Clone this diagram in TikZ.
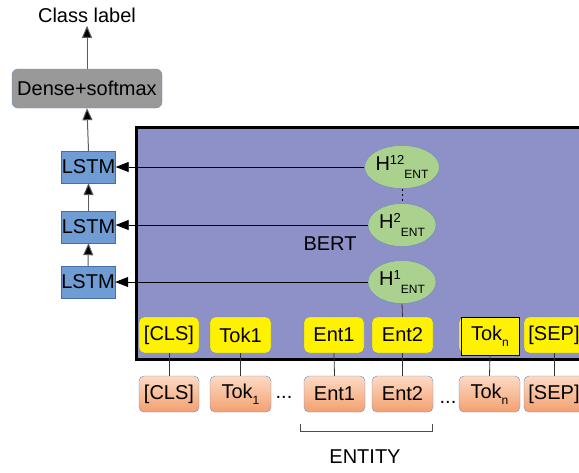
\documentclass[tikz,border=0pt]{standalone}
\usepackage{fontspec}
\setmainfont{Liberation Sans}
\usetikzlibrary{shapes.geometric,arrows.meta}

\definecolor{bertfill}{RGB}{142,144,200}
\definecolor{lstmfill}{RGB}{112,156,212}
\definecolor{lstmedge}{RGB}{70,110,170}
\definecolor{hfill}{RGB}{170,210,142}
\definecolor{boxedge}{RGB}{110,140,190}
\definecolor{densefill}{RGB}{153,153,153}
\definecolor{orangetop}{RGB}{252,218,196}
\definecolor{orangebot}{RGB}{244,160,112}
\definecolor{arrowgray}{RGB}{90,90,90}

\newcommand{\lbl}[1]{\fontsize{20}{22}\selectfont #1}
\newcommand{\hsym}[1]{H\raisebox{0.55ex}{\fontsize{13}{13}\selectfont #1}\raisebox{-0.75ex}{\fontsize{12}{12}\selectfont ENT}}
\newcommand{\tokidx}[1]{Tok\raisebox{-0.6ex}{\fontsize{12}{12}\selectfont #1}}

\begin{document}
\begin{tikzpicture}[x=1pt,y=-1pt,
  txt/.style={font=\lbl{}},
  lstmbox/.style={draw=lstmedge,fill=lstmfill,minimum width=54pt,minimum height=32pt,inner sep=0pt,font=\lbl{}},
  densebox/.style={draw=boxedge,fill=densefill,rounded corners=6pt,minimum width=150pt,minimum height=39pt,inner sep=0pt,font=\lbl{}},
  hnode/.style={ellipse,draw=boxedge,fill=hfill,minimum width=68pt,minimum height=43pt,inner sep=0pt,font=\lbl{}},
  ybox/.style={draw=boxedge,fill=yellow,rounded corners=5pt,minimum width=60pt,minimum height=36pt,inner sep=0pt,font=\lbl{}},
  obox/.style={draw=boxedge,top color=orangetop,bottom color=orangebot,rounded corners=5pt,minimum width=60pt,minimum height=36pt,inner sep=0pt,font=\lbl{}},
  uparrow/.style={draw=arrowgray,line width=1pt,-{Triangle[length=12pt,width=10pt,fill=black]}},
  feed/.style={draw=black,line width=0.8pt,-{Triangle[length=13pt,width=10pt,fill=black]}},
  link/.style={draw=black!80,line width=0.8pt}
]
\useasboundingbox (0,0) rectangle (579,472);
\clip (0,0) rectangle (579,472);

% BERT encoder block
\draw[line width=3pt,fill=bertfill] (136,127) rectangle (640,359);
\node[txt] (bert) at (330,244) {BERT};

% classifier head
\node[txt] (cls label) at (87,15) {Class label};
\node[densebox] (dense) at (87,88.5) {Dense+softmax};
\node[lstmbox] (lstm1) at (88.5,167) {LSTM};
\node[lstmbox] (lstm2) at (88.5,227) {LSTM};
\node[lstmbox] (lstm3) at (88,282) {LSTM};

\draw[uparrow] (dense.north) -- (cls label.south);
\draw[uparrow] (lstm1.north) -- (dense.south);
\draw[uparrow] (lstm2.north) -- (lstm1.south);
\draw[uparrow] (lstm3.north) -- (lstm2.south);

% entity hidden states
\node[hnode] (h12) at (402,167) {\hsym{12}};
\node[hnode] (h2) at (402,225) {\hsym{2}};
\node[hnode] (h1) at (402,282) {\hsym{1}};

\draw[feed] (h12.west) -- (lstm1.east);
\draw[feed] (h2.west) -- (h2.west -| lstm2.east);
\draw[feed] (h1.west) -- (lstm3.east);
\draw[black,dash pattern=on 2pt off 3pt] (h12.south) -- (h2.north);

% BERT token outputs
\node[ybox] (ycls) at (169,335) {[CLS]};
\node[ybox,minimum width=61pt] (ytok1) at (240.5,335) {Tok1};
\node[ybox] (yent1) at (334,335) {Ent1};
\node[ybox,minimum width=61pt] (yent2) at (402.5,335) {Ent2};
\node[ybox] at (489,335) {};
\node[draw=black,fill=yellow,minimum width=58pt,minimum height=38pt,inner sep=0pt,font=\lbl{}] (ytokn) at (490,336) {\tokidx{n}};
\node[ybox] (ysep) at (554,335) {[SEP]};

\draw[link] (h1.south) -- (yent2.north);

% input tokens
\node[obox] (ocls) at (169,394) {[CLS]};
\node[obox,minimum width=61pt] (otok1) at (240.5,394) {\tokidx{1}};
\node[obox,minimum width=61pt] (oent1) at (334.5,394) {Ent1};
\node[obox,minimum width=61pt] (oent2) at (402.5,394) {Ent2};
\node[obox,minimum width=61pt] (otokn) at (489.5,394) {\tokidx{n}};
\node[obox] (osep) at (554,394) {[SEP]};

\foreach \a/\b in {ycls/ocls,ytok1/otok1,yent1/oent1,yent2/oent2,ytokn/otokn,ysep/osep}
  \draw[link] (\a.south) -- (\b.north);

\node[txt] (dots1) at (284,397) {...};
\node[txt] (dots2) at (448,402) {...};

% entity span bracket
\coordinate (brl) at (300,424);
\coordinate (brr) at (432,424);
\draw[black!70,line width=0.8pt] (brl) -- ++(0,7) -| (brr);
\node[txt] (entity) at (365,457) {ENTITY};
\end{tikzpicture}
\end{document}
